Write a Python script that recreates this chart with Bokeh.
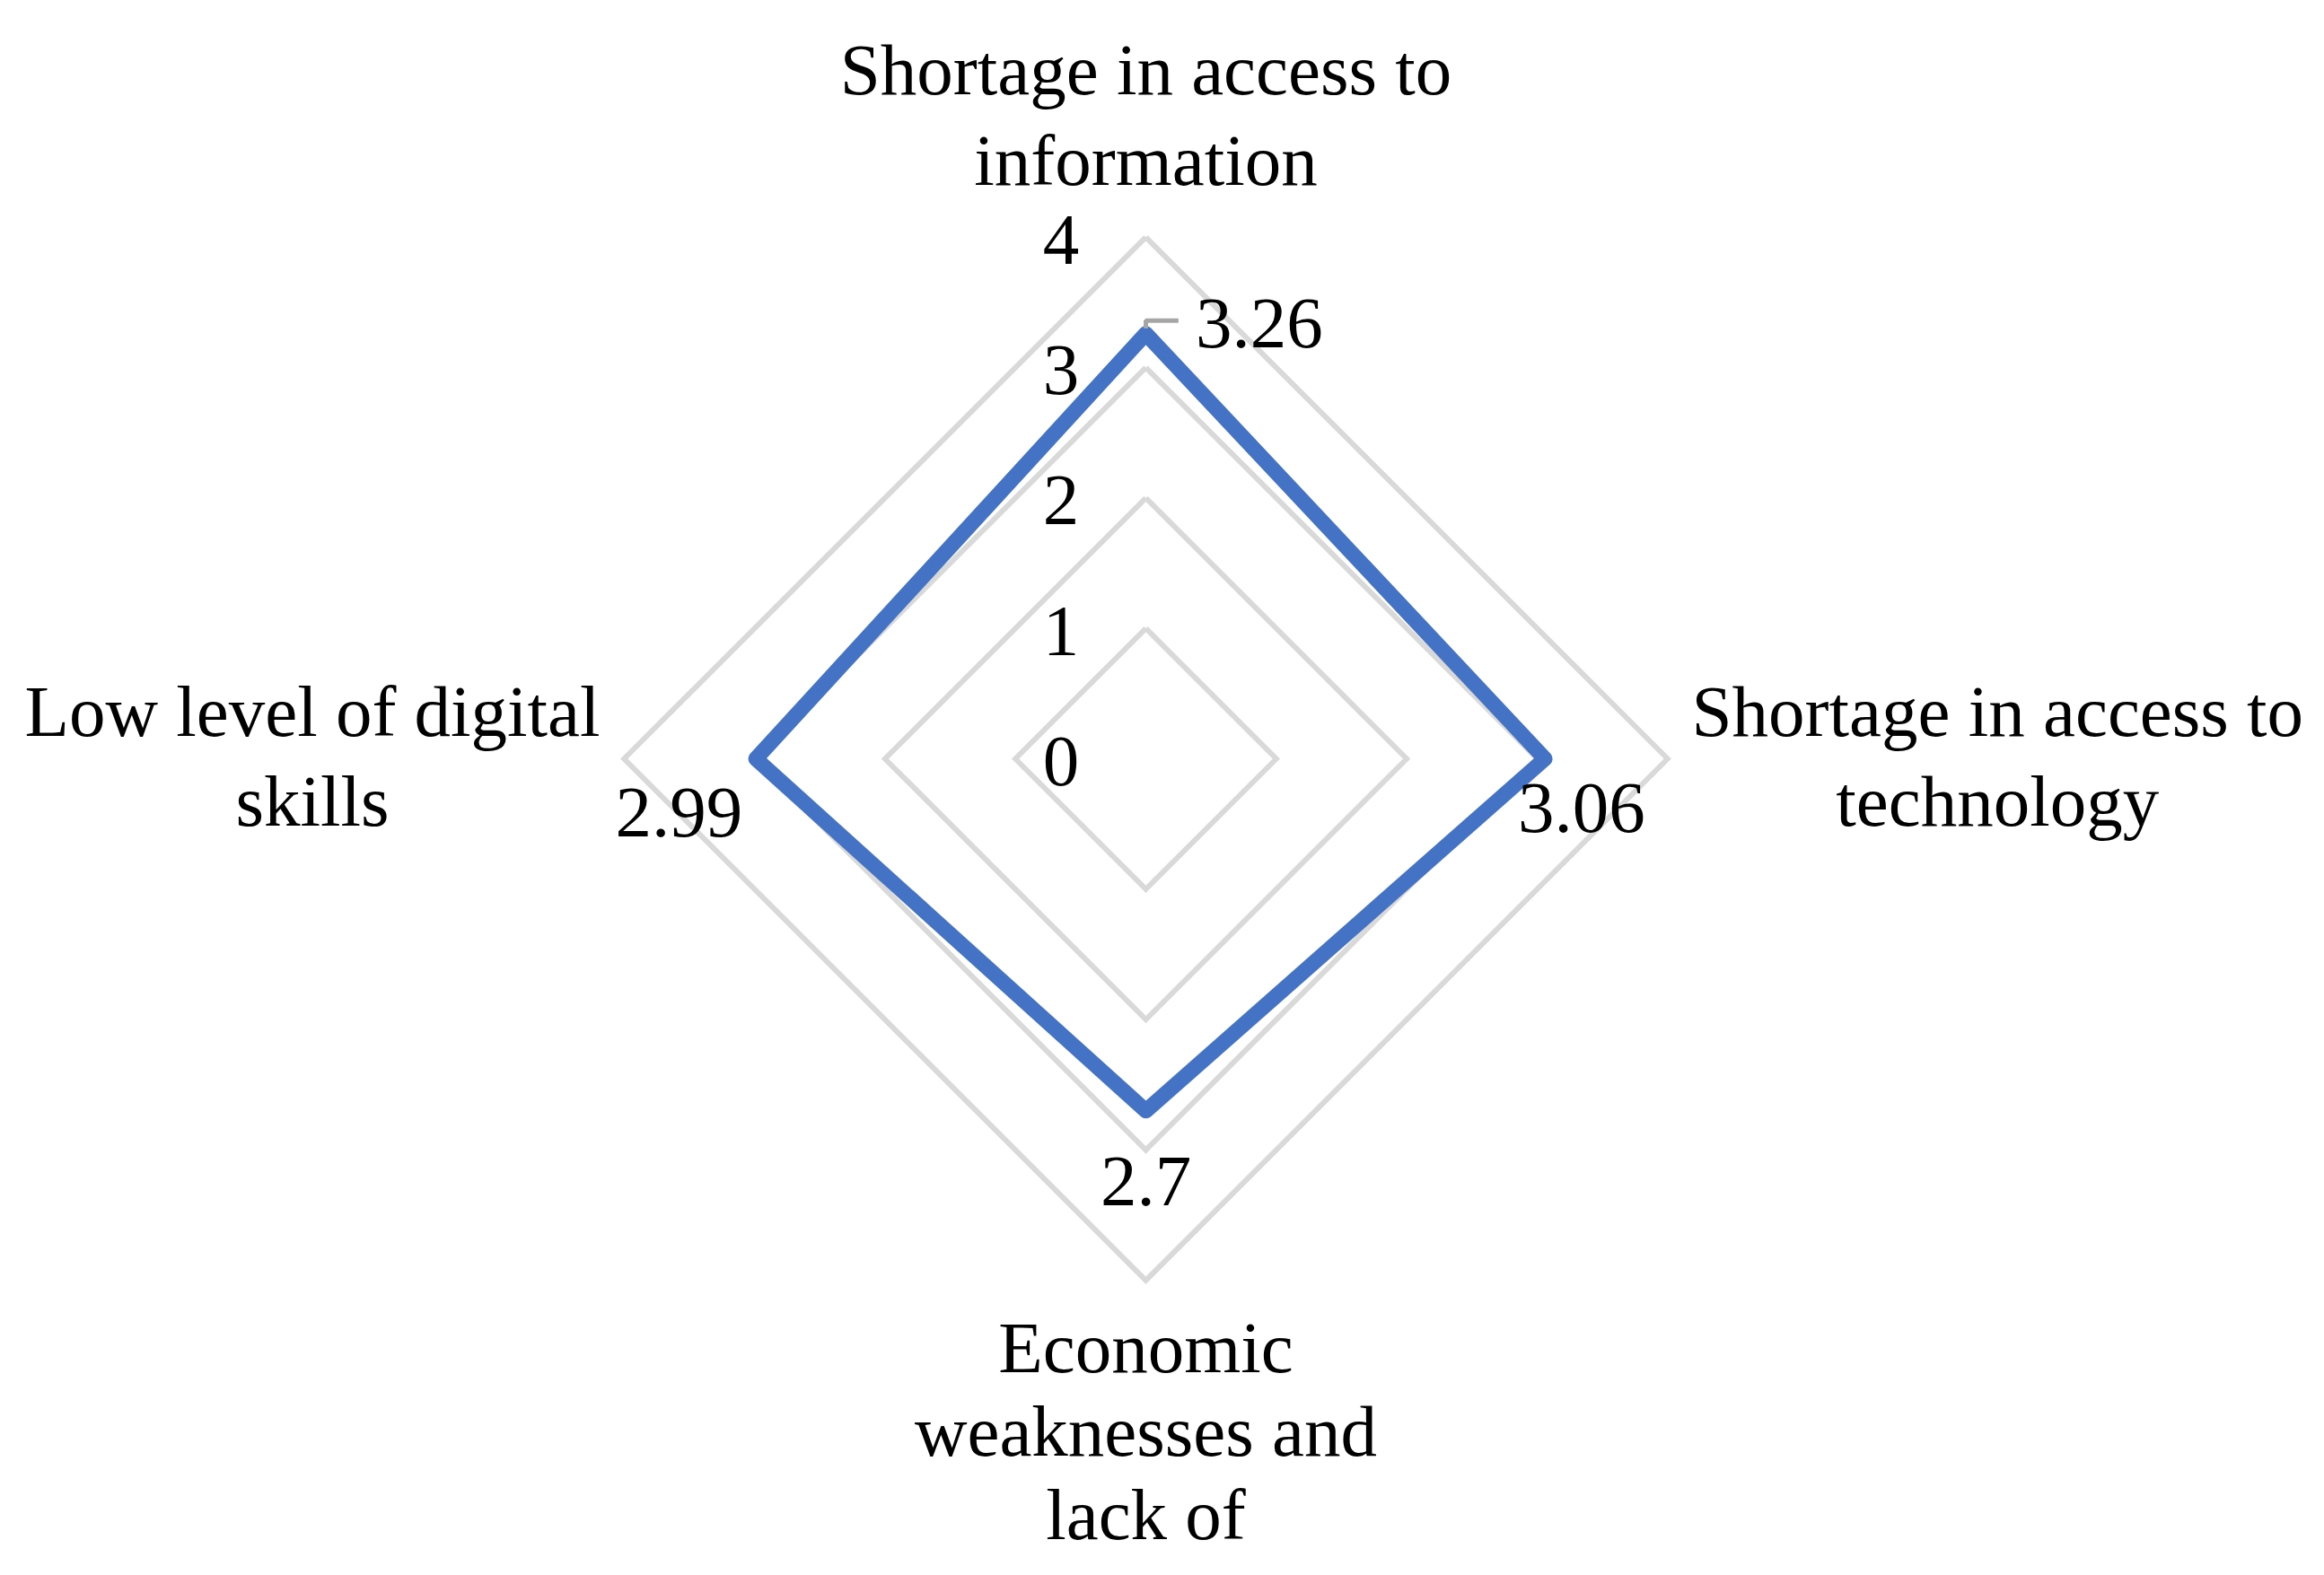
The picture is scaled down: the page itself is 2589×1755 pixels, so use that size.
import math
from bokeh.plotting import figure
from bokeh.core.properties import value
from bokeh.embed import file_html
from bokeh.resources import INLINE

# ---- data ----
categories = [
    ["Shortage in access to", "information"],
    ["Shortage in access to", "technology"],
    ["Economic", "weaknesses and", "lack of"],
    ["Low level of digital", "skills"],
]
values = [3.26, 3.06, 2.7, 2.99]
value_labels = ["3.26", "3.06", "2.7", "2.99"]
ticks = [0, 1, 2, 3, 4]
tick_labels = ["0", "1", "2", "3", "4"]

# ---- layout ----
W, H = 2573, 1739
unit = 145.3            # pixels per value unit
cx, cy = 1276, 845      # centre in plot pixels (from top-left of plot)
x0 = -cx / unit
x1 = (W - cx) / unit
y0 = -(H - cy) / unit
y1 = cy / unit

FONT = value("Liberation Serif")
FS = "81px"

p = figure(width=W, height=H, x_range=(x0, x1), y_range=(y0, y1),
           output_backend="svg", toolbar_location=None, min_border=0)
p.axis.visible = False
p.grid.visible = False
p.outline_line_color = None
p.background_fill_color = "white"

n = len(values)
angles = [math.pi / 2 - 2 * math.pi * i / n for i in range(n)]

# grid rings (skip 0)
for t in ticks[1:]:
    xs = [t * math.cos(a) for a in angles] + [t * math.cos(angles[0])]
    ys = [t * math.sin(a) for a in angles] + [t * math.sin(angles[0])]
    p.line(xs, ys, line_color="#D9D9D9", line_width=6, line_join="miter")

# data polygon
dx = [v * math.cos(a) for v, a in zip(values, angles)]
dy = [v * math.sin(a) for v, a in zip(values, angles)]
p.line(dx + [dx[0]], dy + [dy[0]], line_color="#4472C4", line_width=17,
       line_join="round", line_cap="round")

# tick labels on the vertical axis
p.text(x=[-0.65] * len(ticks), y=[t - 0.02 for t in ticks], text=tick_labels,
       text_font=FONT, text_font_size=FS, text_color="black",
       text_align="center", text_baseline="middle")

# value labels (offsets from each point)
offs = [(0.87, 0.08), (0.28, -0.38), (0.0, -0.54), (-0.59, -0.41)]
vx = [x + o[0] for x, o in zip(dx, offs)]
vy = [y + o[1] for y, o in zip(dy, offs)]
p.text(x=vx, y=vy, text=value_labels, text_font=FONT, text_font_size=FS,
       text_color="black", text_align="center", text_baseline="middle")

# leader line for the first label
p.line([dx[0], dx[0], dx[0] + 0.25], [dy[0] + 0.04, dy[0] + 0.10, dy[0] + 0.10],
       line_color="#A6A6A6", line_width=5)

# category labels
lab_pos = [(0.0, 5.28), (6.53, 0.36), (0.0, -4.52), (-6.39, 0.36)]
line_gaps = [0.69, 0.69, 0.64, 0.69]
lx, ly, lt = [], [], []
for (px, py), g, lines in zip(lab_pos, line_gaps, categories):
    for k, s in enumerate(lines):
        lx.append(px)
        ly.append(py - k * g)
        lt.append(s)
p.text(x=lx, y=ly, text=lt, text_font=FONT, text_font_size=FS,
       text_color="black", text_align="center", text_baseline="middle")

open("out.html", "w").write(file_html(p, INLINE))
